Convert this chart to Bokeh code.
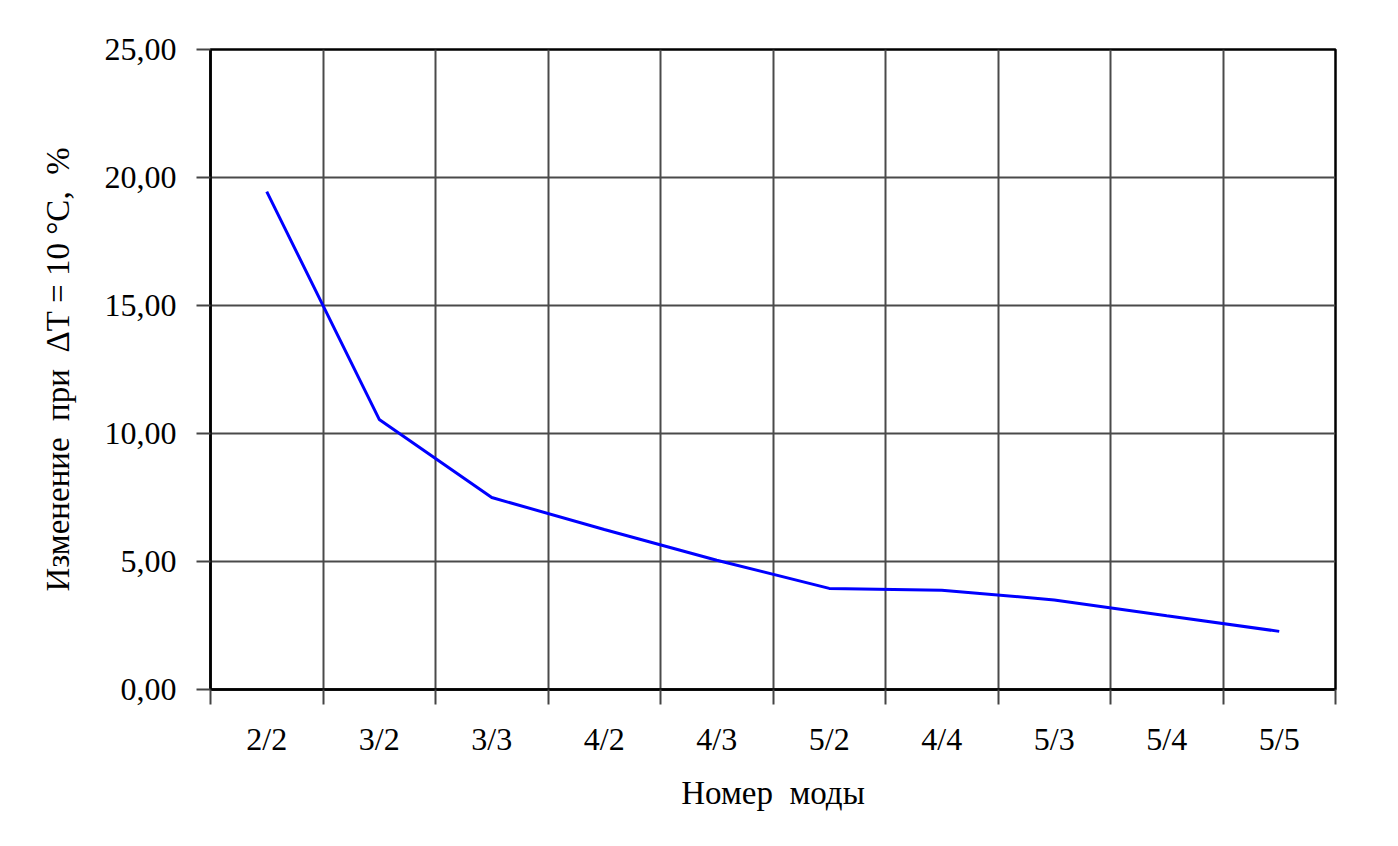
from bokeh.plotting import figure
from bokeh.models import FixedTicker, Range1d
from bokeh.embed import file_html
from bokeh.resources import INLINE

modes = ["2/2", "3/2", "3/3", "4/2", "4/3", "5/2", "4/4", "5/3", "5/4", "5/5"]
change = [19.45, 10.55, 7.5, 6.25, 5.05, 3.95, 3.88, 3.5, 2.88, 2.27]
y_ticks = [0, 5, 10, 15, 20, 25]
y_labels = ["0,00", "5,00", "10,00", "15,00", "20,00", "25,00"]

FONT = "Liberation Serif"
NB = "\u00a0"

xs = [i + 0.5 for i in range(len(modes))]
bounds = list(range(len(modes) + 1))

p = figure(width=1380, height=828, output_backend="svg", toolbar_location=None,
           x_range=Range1d(0, len(modes)), y_range=Range1d(0, 25),
           min_border_left=210, min_border_right=45, min_border_top=49,
           min_border_bottom=139)

p.line(xs, change, line_color="#0000ff", line_width=3)

# x axis: labels at category centres, ticks at boundaries
p.xaxis.ticker = FixedTicker(ticks=xs, minor_ticks=bounds)
p.xaxis.major_label_overrides = {x: m for x, m in zip(xs, modes)}
p.xaxis.major_tick_out = 0
p.xaxis.major_tick_in = 0
p.xaxis.minor_tick_out = 15
p.xaxis.minor_tick_in = 0
p.xaxis.minor_tick_line_color = "#444444"
p.xaxis.minor_tick_line_width = 2
p.xaxis.major_label_standoff = 16
p.xaxis.axis_label = "Номер" + NB * 2 + "моды"
p.xaxis.axis_label_standoff = 15

p.yaxis.ticker = FixedTicker(ticks=y_ticks, minor_ticks=[])
p.yaxis.major_label_overrides = {t: l for t, l in zip(y_ticks, y_labels)}
p.yaxis.major_tick_out = 14
p.yaxis.major_tick_in = 0
p.yaxis.major_tick_line_color = "#444444"
p.yaxis.major_tick_line_width = 2
p.yaxis.major_label_standoff = 20
p.yaxis.axis_label = ("Изменение" + NB * 2 + "при" + NB * 2 + "ΔT" + NB + "=" + NB +
                      "10" + NB + "°C," + NB * 2 + "%")
p.yaxis.axis_label_standoff = 26

for ax in (p.xaxis, p.yaxis):
    ax.axis_line_color = "black"
    ax.axis_line_width = 2.5
    ax.major_label_text_font = FONT
    ax.major_label_text_font_size = "32px"
    ax.major_label_text_color = "black"
    ax.axis_label_text_font = FONT
    ax.axis_label_text_font_size = "33px"
    ax.axis_label_text_font_style = "normal"
    ax.axis_label_text_color = "black"

p.xgrid.ticker = FixedTicker(ticks=bounds)
p.ygrid.ticker = FixedTicker(ticks=y_ticks)
for g in (p.xgrid, p.ygrid):
    g.grid_line_color = "#4a4a4a"
    g.grid_line_width = 2

p.outline_line_color = "black"
p.outline_line_width = 2.5
p.background_fill_color = "white"
p.border_fill_color = "white"

open("out.html", "w").write(file_html(p, INLINE))
